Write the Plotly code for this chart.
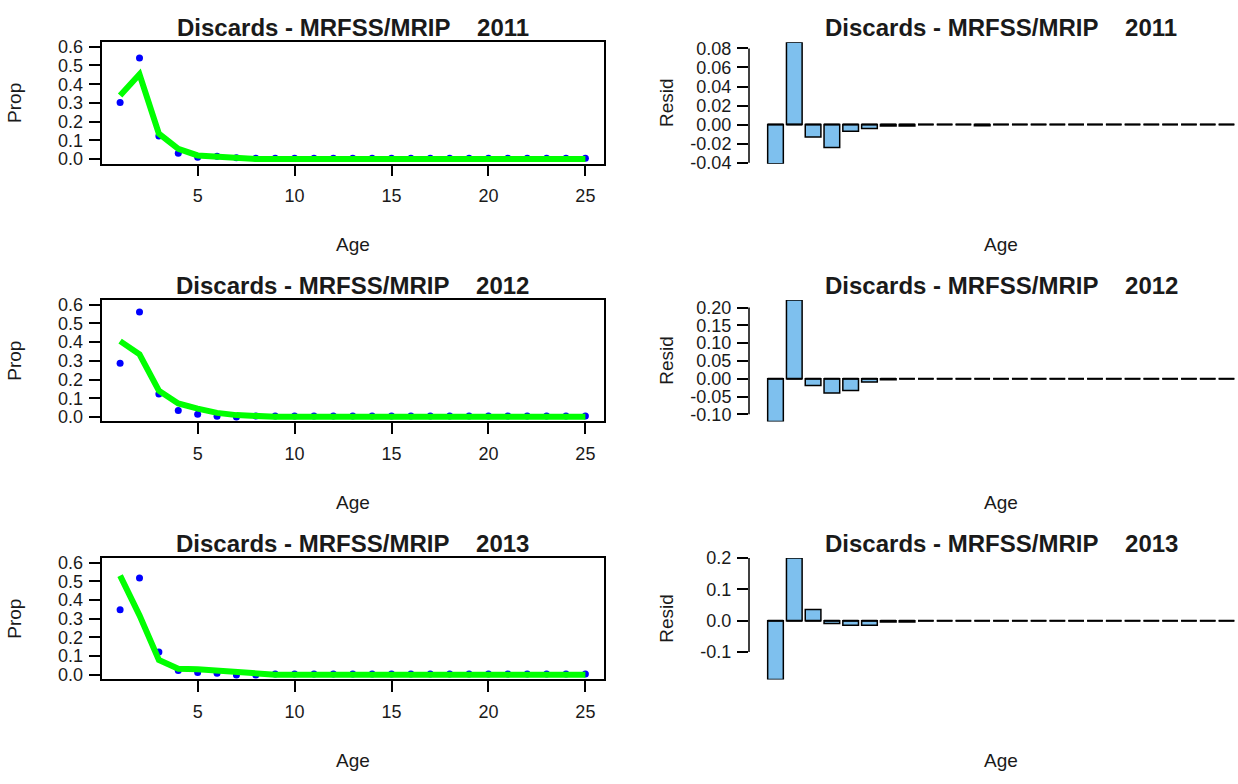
import plotly.graph_objects as go

# ---------------- data ----------------
ages = list(range(1, 26))
years = ["2011", "2012", "2013"]

obs_2011 = [0.303, 0.540, 0.123, 0.031, 0.010, 0.015, 0.008] + [0.005] * 18
pred_2011 = [0.340, 0.453, 0.136, 0.055, 0.020, 0.012, 0.005] + [0.001] * 18
resid_2011 = [-0.041, 0.0865, -0.013, -0.024, -0.007, -0.004, -0.0015, -0.0015,
              0, 0, 0, -0.0012] + [0] * 13

obs_2012 = [0.287, 0.561, 0.123, 0.035, 0.014, 0.004, 0.0] + [0.005] * 18
pred_2012 = [0.405, 0.335, 0.140, 0.072, 0.045, 0.022, 0.010, 0.004] + [0.001] * 17
resid_2012 = [-0.120, 0.221, -0.019, -0.040, -0.033, -0.009, -0.003] + [0] * 18

obs_2013 = [0.348, 0.518, 0.122, 0.023, 0.013, 0.009, 0.0, 0.0] + [0.005] * 17
pred_2013 = [0.530, 0.318, 0.080, 0.033, 0.030, 0.022, 0.010, 0.008] + [0.001] * 17
resid_2013 = [-0.187, 0.200, 0.036, -0.009, -0.014, -0.014, -0.004, -0.004] + [0] * 17

obs = [obs_2011, obs_2012, obs_2013]
pred = [pred_2011, pred_2012, pred_2013]
resid = [resid_2011, resid_2012, resid_2013]

prop_ticks = [0.0, 0.1, 0.2, 0.3, 0.4, 0.5, 0.6]
prop_ticklabels = ["0.0", "0.1", "0.2", "0.3", "0.4", "0.5", "0.6"]
age_ticks = [5, 10, 15, 20, 25]
age_ticklabels = ["5", "10", "15", "20", "25"]
resid_ticks = [
    [-0.04, -0.02, 0.00, 0.02, 0.04, 0.06, 0.08],
    [-0.10, -0.05, 0.00, 0.05, 0.10, 0.15, 0.20],
    [-0.1, 0.0, 0.1, 0.2],
]
resid_ticklabels = [
    ["-0.04", "-0.02", "0.00", "0.02", "0.04", "0.06", "0.08"],
    ["-0.10", "-0.05", "0.00", "0.05", "0.10", "0.15", "0.20"],
    ["-0.1", "0.0", "0.1", "0.2"],
]

# ---------------- layout geometry ----------------
W, H = 1238, 784
FONT = "Liberation Sans"
TXT = "#1a1a1a"
TICK_SIZE = 18
LAB_SIZE = 19
TITLE_SIZE = 24

def xf(px):
    return px / W

def yf(py):
    return 1 - py / H

row_tops = [33.0, 297.3, 561.7]
row_bots = [157.5, 421.7, 686.0]
left_px = (101.5, 604.0)
right_px = (749.0, 1253.0)

# R-style axis limits
def ext(lo, hi, f=0.04):
    d = (hi - lo) * f
    return [lo - d, hi + d]

left_xrange = ext(min(ages), max(ages))
left_yrange = ext(0.0, 0.6)

nb = len(ages)
bar_left = [0.2 + 1.2 * i for i in range(nb)]
bar_ctr = [b + 0.5 for b in bar_left]
rx = ext(bar_left[0], bar_left[-1] + 1.0)
unit = (right_px[1] - right_px[0]) / (rx[1] - rx[0])
right_xrange = [rx[0], rx[0] + (W - right_px[0]) / unit]

fig = go.Figure()
layout = dict(
    width=W, height=H,
    margin=dict(l=0, r=0, t=0, b=0),
    paper_bgcolor="white", plot_bgcolor="white",
    showlegend=False,
    font=dict(family=FONT, size=TICK_SIZE, color=TXT),
)
annotations = []
shapes = []

for r in range(3):
    li = 2 * r + 1
    ri = 2 * r + 2
    ydom = [yf(row_bots[r]), yf(row_tops[r])]
    # left panel
    layout[f"xaxis{li}"] = dict(
        domain=[xf(left_px[0]), xf(left_px[1])], anchor=f"y{li}",
        range=left_xrange, tickvals=age_ticks, ticktext=age_ticklabels,
        showline=True, mirror=True, linecolor="black", linewidth=1.5,
        ticks="outside", ticklen=11, tickwidth=1.5, tickcolor="black",
        showgrid=False, zeroline=False, ticklabelstandoff=4,
        tickfont=dict(family=FONT, size=TICK_SIZE, color=TXT),
    )
    layout[f"yaxis{li}"] = dict(
        domain=ydom, anchor=f"x{li}",
        range=left_yrange, tickvals=prop_ticks, ticktext=prop_ticklabels,
        showline=True, mirror=True, linecolor="black", linewidth=1.5,
        ticks="outside", ticklen=11, tickwidth=1.5, tickcolor="black",
        showgrid=False, zeroline=False, ticklabelstandoff=2,
        tickfont=dict(family=FONT, size=TICK_SIZE, color=TXT),
    )
    fig.add_trace(go.Scatter(
        x=ages, y=obs[r], mode="markers", xaxis=f"x{li}", yaxis=f"y{li}",
        marker=dict(color="#0000FF", size=7), cliponaxis=True,
    ))
    fig.add_trace(go.Scatter(
        x=ages, y=pred[r], mode="lines", xaxis=f"x{li}", yaxis=f"y{li}",
        line=dict(color="#00FF00", width=6),
    ))

    # right panel
    rmin, rmax = min(resid[r]), max(resid[r])
    layout[f"xaxis{ri}"] = dict(
        domain=[xf(right_px[0]), 1.0], anchor=f"y{ri}",
        range=right_xrange, visible=False, showgrid=False, zeroline=False,
    )
    layout[f"yaxis{ri}"] = dict(
        domain=ydom, anchor=f"x{ri}",
        range=[rmin, rmax], tickvals=resid_ticks[r], ticktext=resid_ticklabels[r],
        showline=False, ticks="outside", ticklen=11, tickwidth=1.5,
        tickcolor="black", showgrid=False, zeroline=False, ticklabelstandoff=2,
        tickfont=dict(family=FONT, size=TICK_SIZE, color=TXT),
    )
    shapes.append(dict(
        type="line", xref=f"x{ri} domain", yref=f"y{ri}",
        x0=0, x1=0, y0=min(resid_ticks[r]), y1=max(resid_ticks[r]),
        line=dict(color="black", width=1.5),
    ))
    # zero-height bar outlines (baseline segments)
    zx, zy = [], []
    for b in bar_left:
        zx += [b, b + 1.0, None]
        zy += [0, 0, None]
    fig.add_trace(go.Scatter(
        x=zx, y=zy, mode="lines", xaxis=f"x{ri}", yaxis=f"y{ri}",
        line=dict(color="black", width=2),
    ))
    fig.add_trace(go.Bar(
        x=bar_ctr, y=resid[r], width=1.0, xaxis=f"x{ri}", yaxis=f"y{ri}",
        marker=dict(color="#7EC0EE", line=dict(color="black", width=1.5)),
    ))

    # texts
    off = row_tops[r] - row_tops[0]
    title = "<b>Discards - MRFSS/MRIP" + "\u00a0" * 4 + years[r] + "</b>"
    for cx in [(left_px[0] + left_px[1]) / 2, (right_px[0] + right_px[1]) / 2]:
        annotations.append(dict(
            x=xf(cx), y=yf(18 + off), xref="paper", yref="paper",
            text=title, showarrow=False, xanchor="center", yanchor="middle",
            font=dict(family=FONT, size=TITLE_SIZE, color=TXT),
        ))
        annotations.append(dict(
            x=xf(cx), y=yf(240 + off), xref="paper", yref="paper",
            text="Age", showarrow=False, xanchor="center", yanchor="middle",
            font=dict(family=FONT, size=LAB_SIZE, color=TXT),
        ))
    ymid = (row_tops[r] + row_bots[r]) / 2
    annotations.append(dict(
        x=xf(15), y=yf(ymid), xref="paper", yref="paper", text="Prop",
        textangle=-90, showarrow=False, xanchor="center", yanchor="middle",
        font=dict(family=FONT, size=LAB_SIZE, color=TXT),
    ))
    annotations.append(dict(
        x=xf(667), y=yf(ymid), xref="paper", yref="paper", text="Resid",
        textangle=-90, showarrow=False, xanchor="center", yanchor="middle",
        font=dict(family=FONT, size=LAB_SIZE, color=TXT),
    ))

layout["annotations"] = annotations
layout["shapes"] = shapes
fig.update_layout(**layout)
fig.write_html(
    "out.html",
    config={"displayModeBar": False},
    post_script="document.body.style.margin='0px';document.body.style.overflow='hidden';",
)
